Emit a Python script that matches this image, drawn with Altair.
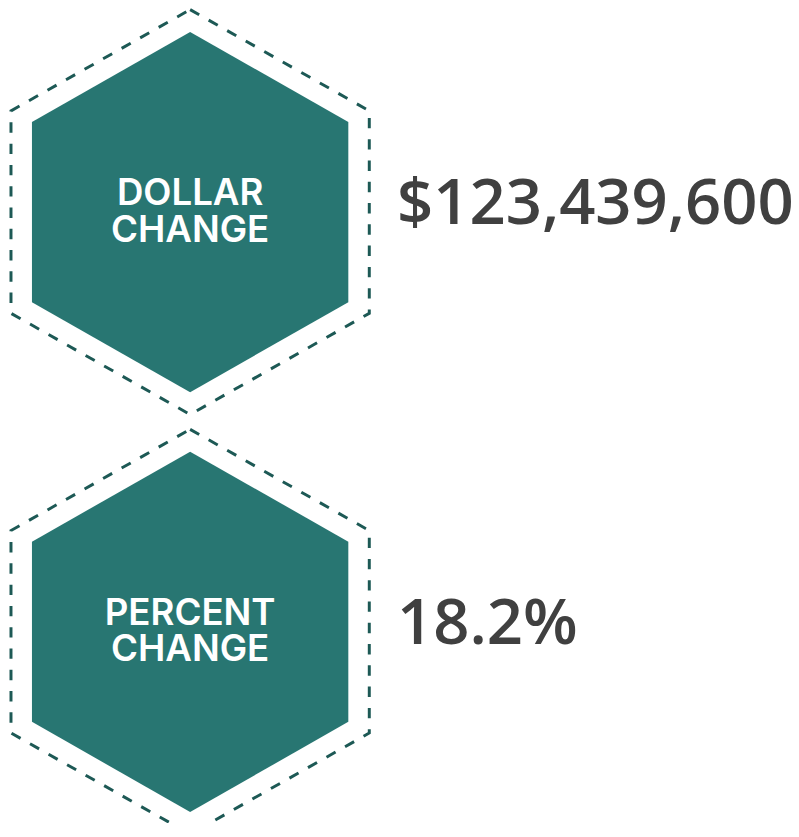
import altair as alt
import pandas as pd

metrics = ["Dollar change", "Percent change"]
labels = ["DOLLAR\nCHANGE", "PERCENT\nCHANGE"]
values = ["$123,439,600", "18.2%"]

df = pd.DataFrame({"metric": metrics, "label": labels, "value": values})

HEX_FILL = "M0,-1L0.878,-0.5L0.878,0.5L0,1L-0.878,0.5L-0.878,-0.5Z"
HEX_OUT = "M0,-1L0.885,-0.5L0.885,0.5L0,1L-0.885,0.5L-0.885,-0.5Z"

y_enc = alt.Y("metric:N", axis=None,
              scale=alt.Scale(type="point", domain=metrics, range=[202, 626],
                              padding=0))

base = alt.Chart(df)

outer = base.mark_point(
    shape=HEX_OUT, filled=False, fill=None, stroke="#1d5955",
    strokeWidth=3, strokeDash=[10.5, 11], opacity=1
).encode(x=alt.value(184), y=y_enc, size=alt.value(167281))

inner = base.mark_point(
    shape=HEX_FILL, filled=True, color="#287672", opacity=1, strokeWidth=0
).encode(x=alt.value(184), y=y_enc, size=alt.value(132496))

label_text = base.mark_text(
    font="Inter", fontWeight=600, fontSize=37, color="white",
    align="center", baseline="middle", lineBreak="\n", lineHeight=37, dy=-18
).encode(x=alt.value(184), y=y_enc, text="label:N")

value_text = base.mark_text(
    font="Open Sans", fontWeight=600, fontSize=64, color="#404040",
    align="left", baseline="alphabetic", dy=12
).encode(x=alt.value(393), y=y_enc, text="value:N")

chart = alt.layer(outer, inner, label_text, value_text).properties(
    width=791, height=815, padding=0,
    autosize=alt.AutoSizeParams(type="none")
).configure_view(stroke=None)

chart.save("out.html", embed_options={"renderer": "svg", "actions": False})
